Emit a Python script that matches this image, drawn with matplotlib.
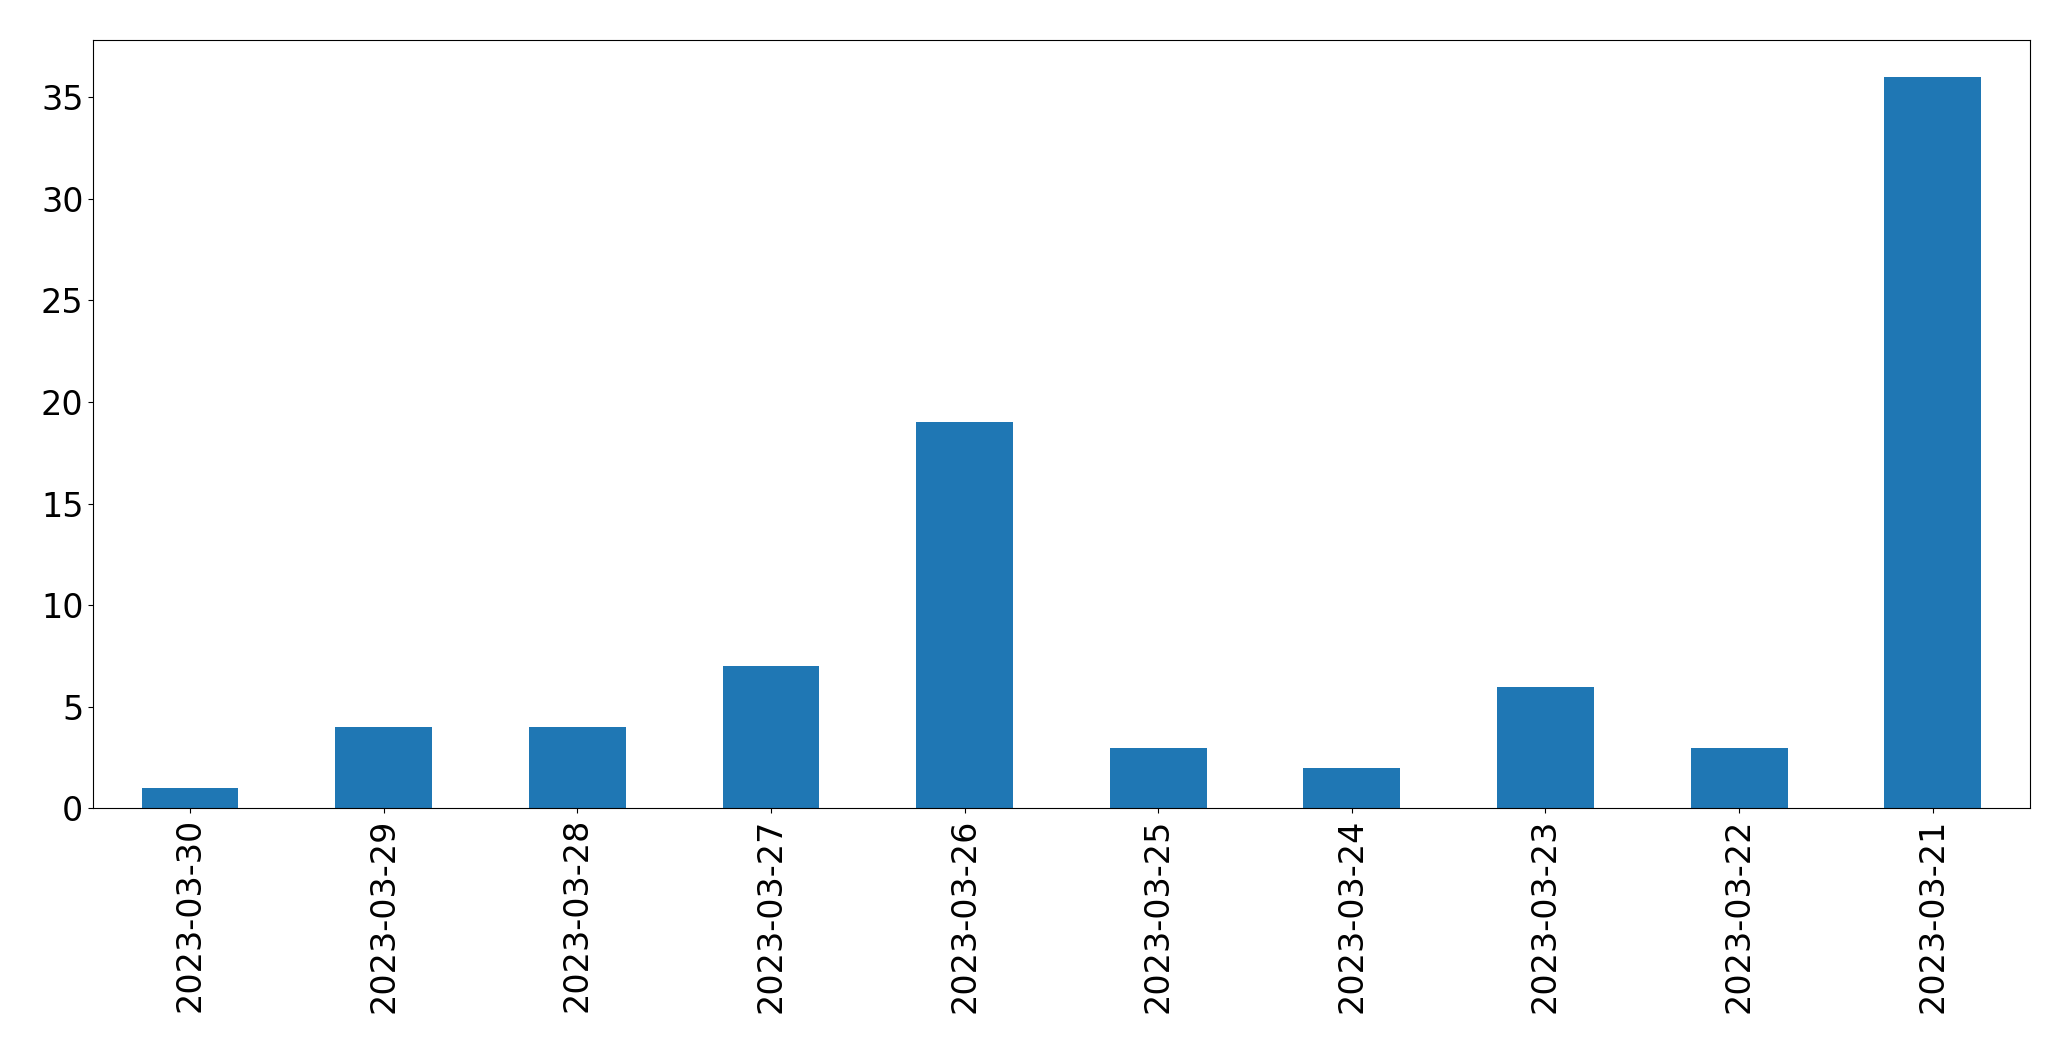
import matplotlib
matplotlib.use('Agg')
import matplotlib.pyplot as plt

dates = ['2023-03-30', '2023-03-29', '2023-03-28', '2023-03-27', '2023-03-26',
         '2023-03-25', '2023-03-24', '2023-03-23', '2023-03-22', '2023-03-21']
counts = [1, 4, 4, 7, 19, 3, 2, 6, 3, 36]

fig, ax = plt.subplots(figsize=(20.71, 10.61), dpi=100)
x = range(len(dates))
ax.bar(x, counts, width=0.5, color='#1f77b4')
ax.set_xticks(list(x))
ax.set_xticklabels(dates, rotation=90)
ax.set_xlim(-0.5, len(dates) - 0.5)
ax.tick_params(labelsize=24)
fig.subplots_adjust(left=0.045, right=0.98, top=0.962, bottom=0.238)
plt.savefig('out.png', dpi=100)
